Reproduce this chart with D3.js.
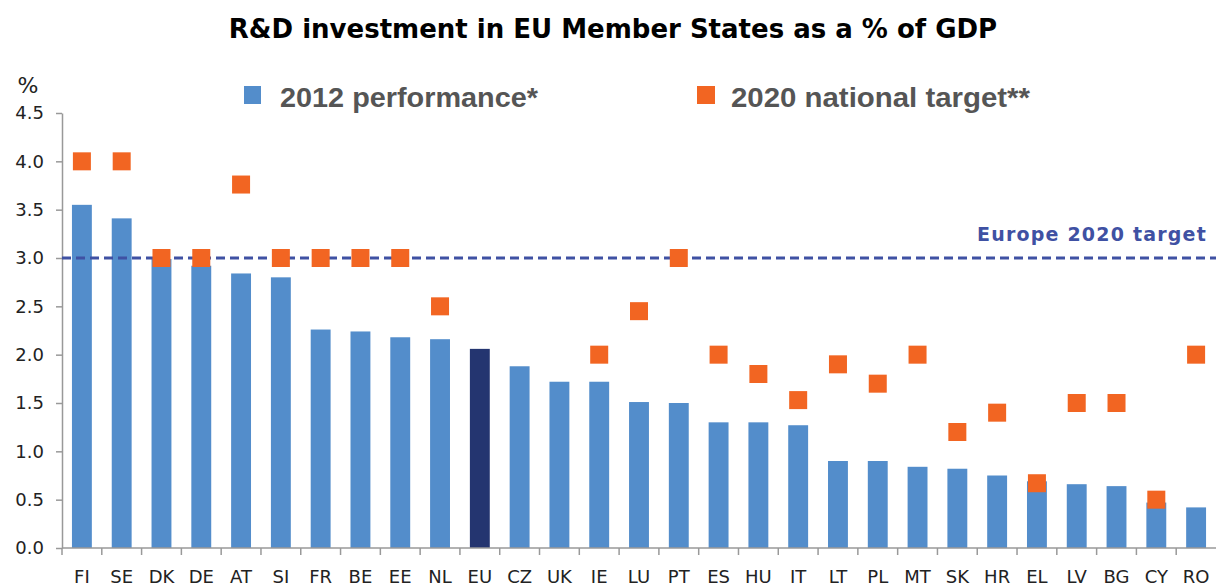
<!DOCTYPE html>
<html>
<head>
<meta charset="utf-8">
<script src="https://cdn.jsdelivr.net/npm/d3@7"></script>
<style>
  body { margin: 0; background: #fff; }
  svg { display: block; }
</style>
</head>
<body>
<svg id="chart" width="1216" height="586"></svg>
<script>
// data
var countries = ['FI', 'SE', 'DK', 'DE', 'AT', 'SI', 'FR', 'BE', 'EE', 'NL', 'EU', 'CZ', 'UK', 'IE', 'LU',
  'PT', 'ES', 'HU', 'IT', 'LT', 'PL', 'MT', 'SK', 'HR', 'EL', 'LV', 'BG', 'CY', 'RO'];
var perf2012 = [3.55, 3.41, 2.99, 2.92, 2.84, 2.80, 2.26, 2.24, 2.18, 2.16, 2.06, 1.88, 1.72, 1.72, 1.51,
  1.50, 1.30, 1.30, 1.27, 0.90, 0.90, 0.84, 0.82, 0.75, 0.69, 0.66, 0.64, 0.47, 0.42];
var target2020 = [4.0, 4.0, 3.0, 3.0, 3.76, 3.0, 3.0, 3.0, 3.0, 2.5, null, null, null, 2.0, 2.45,
  3.0, 2.0, 1.8, 1.53, 1.9, 1.7, 2.0, 1.2, 1.4, 0.67, 1.5, 1.5, 0.5, 2.0];
var euroTarget = 3.0;
var yTicks = [0, 0.5, 1.0, 1.5, 2.0, 2.5, 3.0, 3.5, 4.0, 4.5];

var svg = d3.select('#chart');
var x = d3.scaleBand().domain(countries).range([62, 1216]).paddingInner(0.5).paddingOuter(0.25);
var y = d3.scaleLinear().domain([0, 4.5]).range([548, 113]);

svg.append('text')
  .attr('x', 613).attr('y', 38)
  .attr('text-anchor', 'middle')
  .style('font-family', 'DejaVu Sans, Verdana, sans-serif')
  .style('font-weight', 'bold')
  .style('font-size', '26px')
  .text('R&D investment in EU Member States as a % of GDP');

// legend
svg.append('rect').attr('x', 244).attr('y', 86).attr('width', 17).attr('height', 18).attr('fill', '#538dcb');
svg.append('text').attr('x', 280).attr('y', 107)
  .style('font-family', 'Liberation Sans Narrow, Liberation Sans, sans-serif').style('font-size', '28px')
  .style('font-weight', 'bold').attr('fill', '#555')
  .attr('textLength', 258).attr('lengthAdjust', 'spacingAndGlyphs')
  .text('2012 performance*');
svg.append('rect').attr('x', 697).attr('y', 86).attr('width', 18).attr('height', 18).attr('fill', '#f26522');
svg.append('text').attr('x', 731).attr('y', 107)
  .style('font-family', 'Liberation Sans Narrow, Liberation Sans, sans-serif').style('font-size', '28px')
  .style('font-weight', 'bold').attr('fill', '#555')
  .attr('textLength', 299).attr('lengthAdjust', 'spacingAndGlyphs')
  .text('2020 national target**');

svg.append('text').attr('x', 28).attr('y', 93).attr('text-anchor', 'middle')
  .style('font-family', 'DejaVu Sans, Verdana, sans-serif').style('font-size', '22px').attr('fill', '#222')
  .text('%');

// y axis
var yAxis = svg.append('g').attr('transform', 'translate(62,0)')
  .call(d3.axisLeft(y).tickValues(yTicks).tickFormat(d3.format('.1f')).tickSize(6).tickSizeOuter(0));
yAxis.selectAll('line, path').attr('stroke', '#999').attr('stroke-width', 1.5);
yAxis.selectAll('text').attr('x', -18)
  .style('font-family', 'DejaVu Sans, Verdana, sans-serif').style('font-size', '18px').attr('fill', '#222');

// bars
svg.selectAll('rect.bar').data(countries).enter().append('rect')
  .attr('class', 'bar')
  .attr('x', function(d) { return x(d); })
  .attr('width', x.bandwidth())
  .attr('y', function(d, i) { return y(perf2012[i]); })
  .attr('height', function(d, i) { return y(0) - y(perf2012[i]); })
  .attr('fill', function(d) { return d === 'EU' ? '#243570' : '#538dcb'; });

// x axis with ticks on band edges
var xAxis = svg.append('g').attr('transform', 'translate(0,548)');
xAxis.append('line').attr('x1', 62).attr('x2', 1216).attr('stroke', '#999').attr('stroke-width', 1.5);
xAxis.selectAll('line.tick').data(countries).enter().append('line')
  .attr('class', 'tick')
  .attr('x1', function(d) { return x(d) - x.step() * 0.25; })
  .attr('x2', function(d) { return x(d) - x.step() * 0.25; })
  .attr('y1', 0).attr('y2', 7)
  .attr('stroke', '#999').attr('stroke-width', 1.5);
xAxis.selectAll('text').data(countries).enter().append('text')
  .attr('x', function(d) { return x(d) + x.bandwidth() / 2; })
  .attr('y', 35)
  .attr('text-anchor', 'middle')
  .style('font-family', 'DejaVu Sans, Verdana, sans-serif').style('font-size', '18px').attr('fill', '#222')
  .text(function(d) { return d; });

// europe 2020 target line
svg.append('line')
  .attr('x1', 62).attr('x2', 1216)
  .attr('y1', y(euroTarget)).attr('y2', y(euroTarget))
  .attr('stroke', '#3f51a3').attr('stroke-width', 3).attr('stroke-dasharray', '9,5');
svg.append('text').attr('x', 1207).attr('y', 241).attr('text-anchor', 'end')
  .style('font-family', 'DejaVu Sans, Verdana, sans-serif').style('font-weight', 'bold')
  .style('font-size', '19px').style('letter-spacing', '1.2px').attr('fill', '#3f51a3')
  .text('Europe 2020 target');

// national targets
var ms = 18;
svg.selectAll('rect.target').data(countries.filter(function(d, i) { return target2020[i] != null; }))
  .enter().append('rect')
  .attr('class', 'target')
  .attr('x', function(d) { return x(d) + x.bandwidth() / 2 - ms / 2; })
  .attr('y', function(d) { return y(target2020[countries.indexOf(d)]) - ms / 2; })
  .attr('width', ms).attr('height', ms)
  .attr('fill', '#f26522');
</script>
</body>
</html>
